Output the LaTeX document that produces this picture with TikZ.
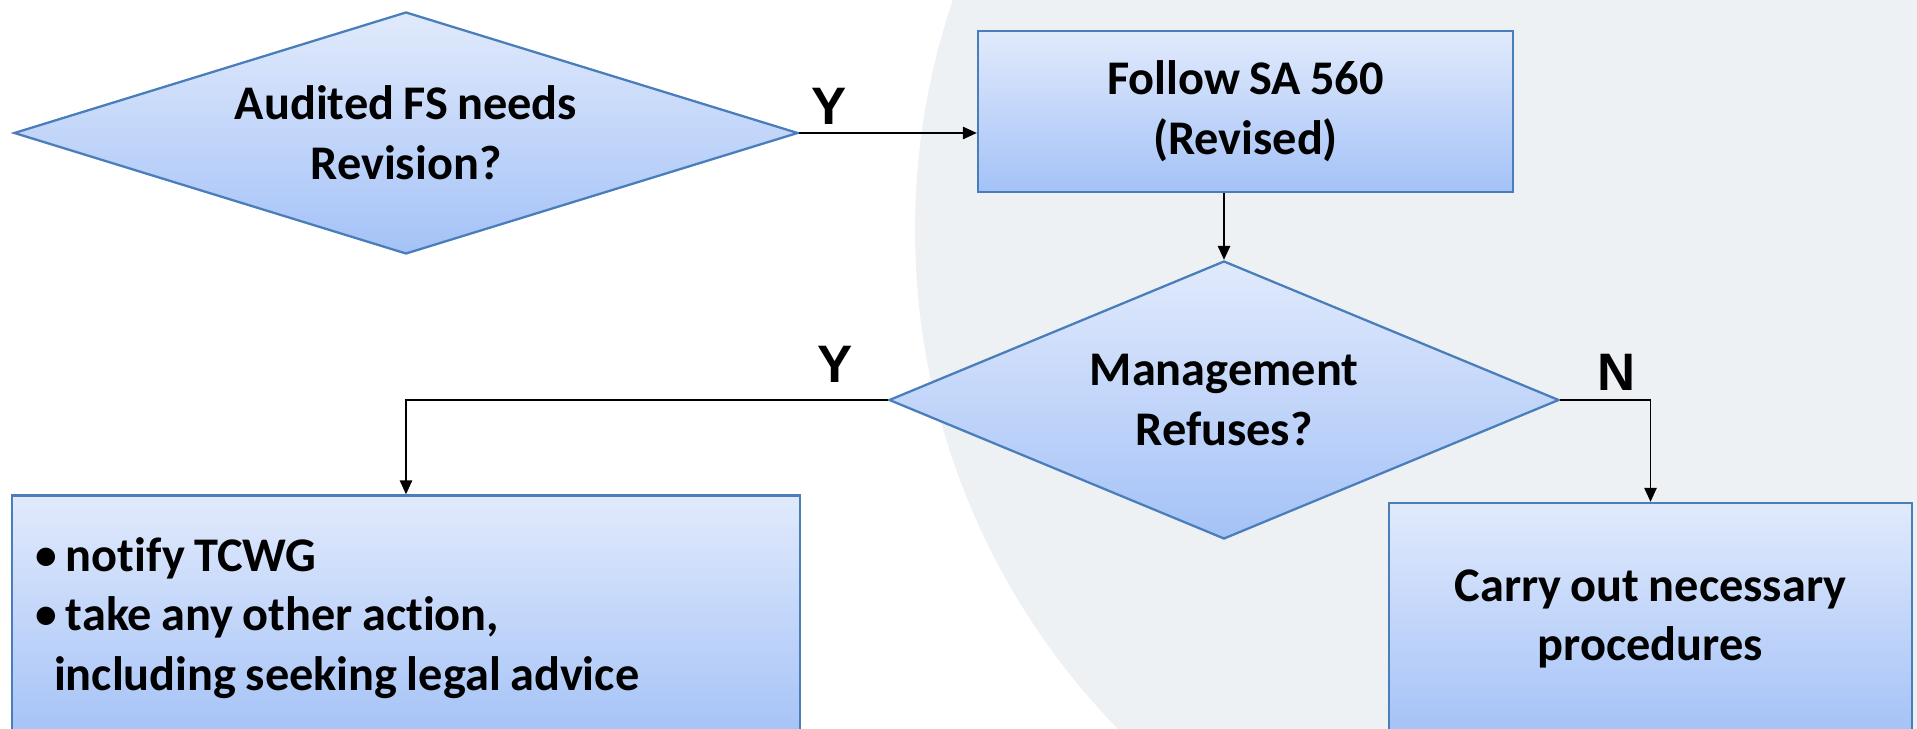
\documentclass[tikz,border=0pt]{standalone}
\usepackage{fontspec}
\setmainfont{Carlito}[Ligatures=NoCommon, WordSpace=0.85]
\newfontfamily\ynfont{Liberation Sans}
\usepackage{tikz}
\usetikzlibrary {arrows.meta,
                 positioning,
                 shapes.geometric}
\definecolor{boxtop}{HTML}{E1EAFC}
\definecolor{boxbot}{HTML}{A4C2F7}
\definecolor{boxline}{HTML}{4A7EBB}
\definecolor{globegrey}{HTML}{EEF1F4}
\newcommand{\bul}{\raisebox{0.04em}{\scalebox{0.9}{•}}}
\tikzset{
        base/.style={draw=boxline, line width=1.3pt, top color=boxtop,
                     bottom color=boxbot, align=center, inner sep=0pt,
                     font=\bfseries\fontsize{27.5}{34}\selectfont},
        proc/.style={base, rectangle},
        test/.style={base, diamond},
        yn/.style={font=\ynfont\bfseries\fontsize{30}{36}\selectfont},
        myarrow/.style={-{Triangle[length=8pt, width=7pt]}, line width=1.1pt},
 }
\begin{document}
\begin{tikzpicture}
    \path[use as bounding box, clip] (0,0) rectangle (38.34,14.58);
    \fill[globegrey] (32.6,9.98) circle (14.3cm);

    \node[test, aspect=3.24, minimum width=15.68cm, minimum height=4.84cm] (d1) at (8.12,11.92) {Audited FS needs\\Revision?};
    \node[proc, minimum width=10.7cm, minimum height=3.22cm] (sa) at (24.91,12.35) {Follow SA 560\\(Revised)};
    \node[test, aspect=2.41, minimum width=13.4cm, minimum height=5.56cm] (d2) at (24.48,6.58) {Management\\Refuses?};
    \node[proc, align=flush left, text width=14.84cm, inner xsep=0.46cm, minimum height=4.9cm] (act) at (8.12,2.22)
        {\bul\ notify TCWG\\\bul\ take any other action,\\\hspace*{0.38cm}including seeking legal advice};
    \node[proc, minimum width=10.46cm, minimum height=4.64cm] (carry) at (33.01,2.2) {Carry out necessary\\procedures};

    \node[yn] (y1) at (16.58,12.46) {Y};
    \node[yn] (y2) at (16.7,7.30) {Y};
    \node[yn] (n1) at (32.34,7.14) {N};

    \draw[myarrow] (d1.east) -- (d1.east -| sa.west);
    \draw[myarrow] (sa.south -| d2.north) -- (d2.north);
    \draw[myarrow] (d2.west) -| (act.north);
    \draw[myarrow] (d2.east) -| (carry.north);
\end{tikzpicture}
\end{document}
